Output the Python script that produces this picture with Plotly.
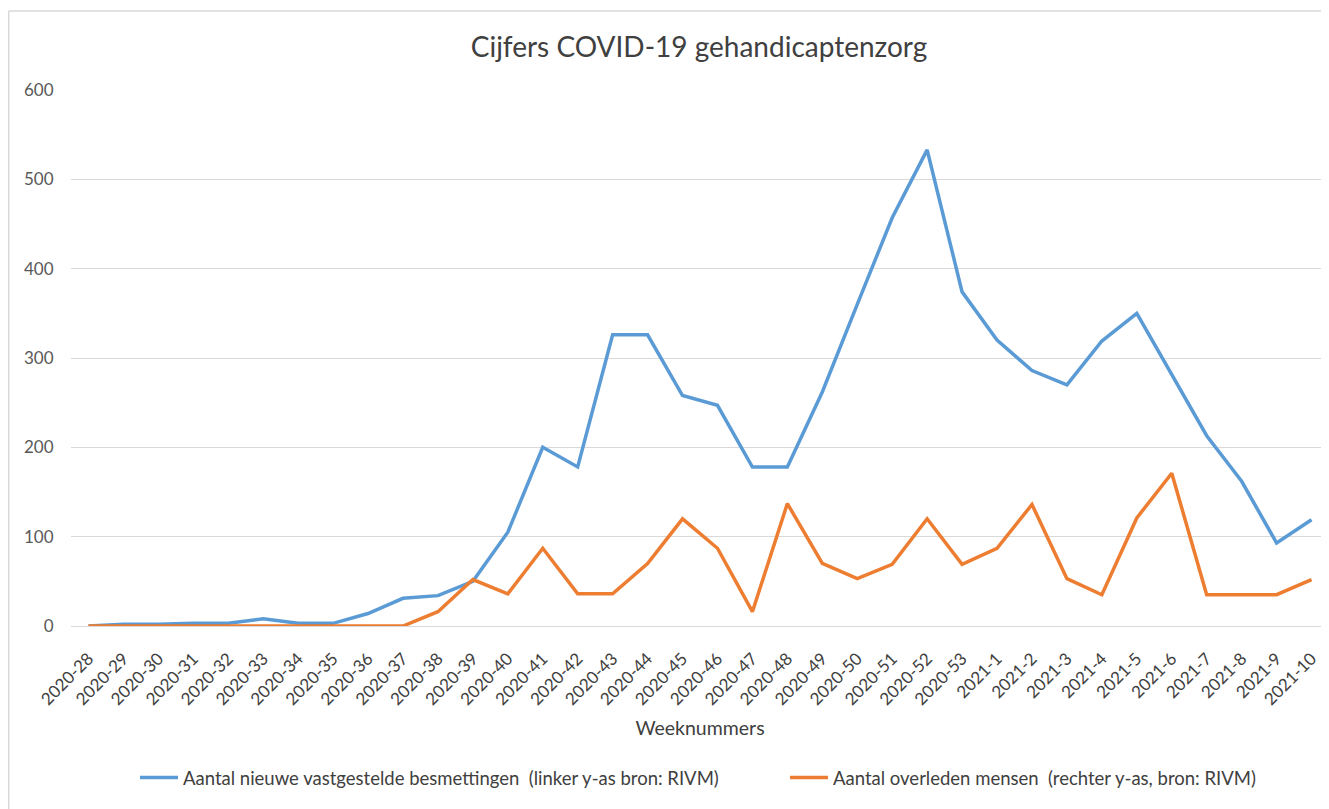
import plotly.graph_objects as go

weeks = [f"2020-{w}" for w in range(28, 54)] + [f"2021-{w}" for w in range(1, 11)]

besmettingen = [0, 2, 2, 3, 3, 8, 3, 3, 14, 31, 34, 50, 105, 200, 178, 326, 326, 258, 247, 178,
                178, 262, 360, 457, 533, 374, 320, 286, 270, 319, 350, 282, 213, 162, 93, 119]

overleden = [0, 0, 0, 0, 0, 0, 0, 0, 0, 0, 16, 52, 36, 87, 36, 36, 70, 120, 87, 16,
             137, 70, 53, 69, 120, 69, 87, 136, 53, 35, 121, 171, 35, 35, 35, 52]

name_blue = "Aantal nieuwe vastgestelde besmettingen  (linker y-as bron: RIVM)"
name_orange = "Aantal overleden mensen  (rechter y-as, bron: RIVM)"

FONT = "Lato, 'Open Sans', sans-serif"
W, H = 1321, 801
L, R, T, B = 63, 0, 82, 183
PW, PH = W - L - R, H - T - B


def px(fx):
    return (fx - L) / PW


def py(fy):
    return (H - B - fy) / PH


fig = go.Figure()
fig.add_trace(go.Scatter(x=weeks, y=besmettingen, mode="lines", name=name_blue,
                         line=dict(color="#5B9BD5", width=3.5), legend="legend"))
fig.add_trace(go.Scatter(x=weeks, y=overleden, mode="lines", name=name_orange,
                         line=dict(color="#ED7D31", width=3.5), legend="legend2"))

leg_common = dict(orientation="h", xanchor="left", y=py(770), yanchor="middle",
                  font=dict(size=18.5, color="#404040"), itemwidth=38,
                  bgcolor="rgba(0,0,0,0)")

fig.update_layout(
    width=W, height=H,
    margin=dict(l=L, r=R, t=T, b=B),
    paper_bgcolor="white", plot_bgcolor="white",
    font=dict(family=FONT, color="#595959", size=16),
    title=dict(text="Cijfers COVID-19 gehandicaptenzorg", x=691 / W, xanchor="center",
               y=1 - 39 / H, yanchor="middle", font=dict(size=28, color="#404040", family=FONT)),
    showlegend=True,
    legend=dict(x=px(127), **leg_common),
    legend2=dict(x=px(777), **leg_common),
    xaxis=dict(type="category", range=[-0.5, len(weeks) - 0.5], tickangle=-45,
               showgrid=False, showline=False,
               ticks="outside", ticklen=15, tickcolor="rgba(0,0,0,0)",
               tickfont=dict(size=17, color="#404040"),
               title=dict(text="Weeknummers", font=dict(size=19.5, color="#404040"), standoff=13)),
    yaxis=dict(range=[0, 600], dtick=100, showgrid=True, gridcolor="#D9D9D9", gridwidth=1,
               zeroline=True, zerolinecolor="#D9D9D9", zerolinewidth=1, showline=False,
               ticks="outside", ticklen=13, tickcolor="rgba(0,0,0,0)",
               tickfont=dict(size=17, color="#595959")),
)

# outer chart frame (top and left edges visible in the reference)
fig.add_shape(type="line", xref="paper", yref="paper",
              x0=px(0.75), x1=px(0.75), y0=py(H), y1=py(3),
              line=dict(color="#D9D9D9", width=1.5), layer="below")
fig.add_shape(type="line", xref="paper", yref="paper",
              x0=px(0.75), x1=px(W), y0=py(3), y1=py(3),
              line=dict(color="#D9D9D9", width=1.5), layer="below")

fig.write_html("out.html")
